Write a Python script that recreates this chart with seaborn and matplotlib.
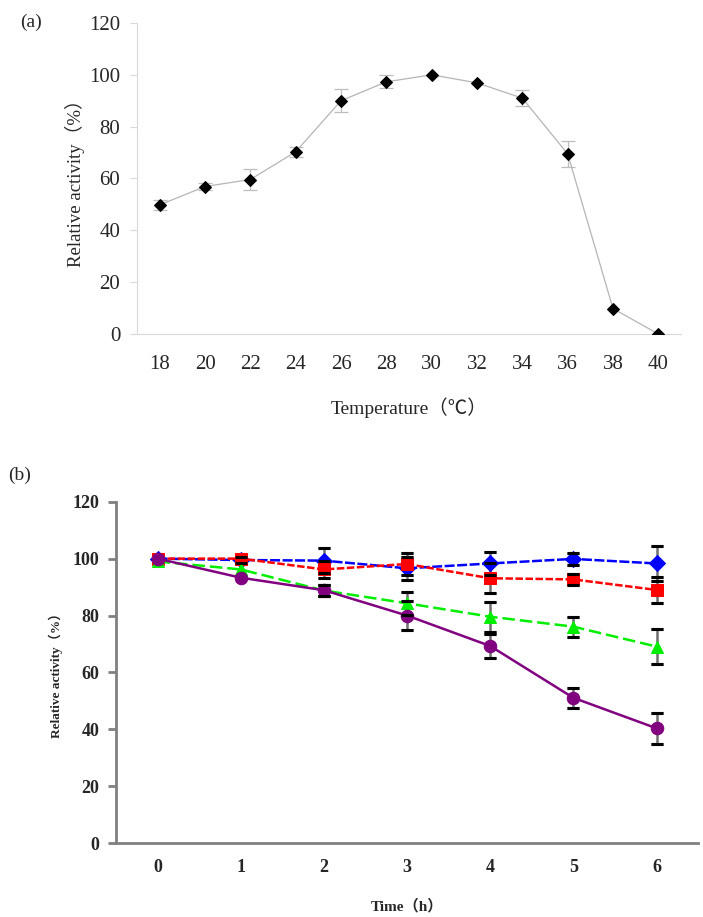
import numpy as np
import pandas as pd
import matplotlib
matplotlib.use('Agg')
import matplotlib.pyplot as plt
import seaborn as sns

# (a) temperature optimum
temps = [18, 20, 22, 24, 26, 28, 30, 32, 34, 36, 38, 40]
act_a = [49.8, 56.9, 59.6, 70.3, 90.0, 97.3, 100.0, 96.9, 91.0, 69.5, 9.8, 0.0]
err_a = [1.8, 1.5, 3.9, 2.0, 4.5, 2.5, 0.0, 0.0, 3.0, 5.0, 0.0, 0.0]

# (b) thermal stability
hours = [0, 1, 2, 3, 4, 5, 6]
blue_v = [100.0, 99.5, 99.3, 96.6, 98.3, 99.9, 98.3]
blue_e = [0.0, 1.0, 4.5, 4.0, 4.0, 2.0, 6.0]
red_v = [100.0, 100.0, 96.2, 98.1, 93.1, 92.7, 89.0]
red_e = [0.0, 0.0, 3.0, 4.0, 5.3, 2.0, 4.5]
green_v = [99.0, 96.2, 88.8, 84.3, 79.6, 76.1, 69.1]
green_e = [0.0, 0.0, 2.0, 4.0, 5.3, 3.5, 6.2]
purple_v = [100.0, 93.3, 88.9, 80.0, 69.3, 51.1, 40.4]
purple_e = [0.0, 0.0, 2.0, 5.0, 4.3, 3.5, 5.5]

serif = ['Liberation Serif', 'Noto Sans CJK SC', 'DejaVu Sans']

sns.set_style('white')
plt.rcParams['font.family'] = serif


def nonzero(x, v, e):
    # only points that actually carry an error bar
    d = pd.DataFrame({'x': x, 'v': v, 'e': e})
    return d[d['e'] > 0]


fig = plt.figure(figsize=(7.03, 9.17), dpi=100)

# ---------- panel (a) ----------
ax1 = fig.add_axes([0.1949, 0.6358, 0.7738, 0.3391])
d = nonzero(temps, act_a, err_a)
ax1.errorbar(d['x'], d['v'], yerr=d['e'], fmt='none', ecolor='#bdbdbd',
             elinewidth=0.9, capsize=5, capthick=0.9, zorder=2)
sns.lineplot(x=temps, y=act_a, ax=ax1, color='#b5b5b5', linewidth=0.9,
             marker='D', markersize=6.5, markerfacecolor='black',
             markeredgecolor='black', zorder=3)
ax1.set_xlim(17, 41)
ax1.set_ylim(0, 120)
ax1.set_yticks(np.arange(0, 121, 20))
ax1.set_xticks(temps)
ax1.set_xticks(np.arange(17, 42, 2), minor=True)
ax1.tick_params(axis='x', which='major', length=0, pad=15, labelsize=15)
ax1.tick_params(axis='x', which='minor', length=6, color='#d9d9d9', width=0.8, direction='out')
ax1.tick_params(axis='y', which='major', length=5, color='#d9d9d9', width=0.8,
                direction='out', left=True, pad=7, labelsize=15)
for s in ['top', 'right']:
    ax1.spines[s].set_visible(False)
for s in ['left', 'bottom']:
    ax1.spines[s].set_color('#d9d9d9')
    ax1.spines[s].set_linewidth(0.8)
ax1.set_xlabel('Temperature（℃）', fontsize=14, labelpad=17)
ax1.set_ylabel('Relative activity（%）', fontsize=13.5, labelpad=3)
fig.text(0.028, 0.985, '(a)', fontsize=14, va='top', ha='left')

# ---------- panel (b) ----------
ax2 = fig.add_axes([0.165, 0.0804, 0.828, 0.3725])
series = [
    (blue_v, blue_e, '#0000ff', 'D', 8, (0, (4, 1))),
    (red_v, red_e, '#ff0000', 's', 8, (0, (3, 1))),
    (green_v, green_e, '#00ee00', '^', 9, (0, (5, 2))),
    (purple_v, purple_e, '#800080', 'o', 9, '-'),
]
for vals, errs, col, mk, ms, ls in series:
    d = nonzero(hours, vals, errs)
    ax2.errorbar(d['x'], d['v'], yerr=d['e'], fmt='none', ecolor='#6e6e6e',
                 elinewidth=1.8, capsize=4, capthick=2.2, zorder=2)
    sns.lineplot(x=hours, y=vals, ax=ax2, color=col, linewidth=1.8,
                 linestyle=ls, marker=mk, markersize=ms,
                 markerfacecolor=col, markeredgecolor=col, zorder=3)
    ax2.errorbar(d['x'], d['v'], yerr=d['e'], fmt='none', ecolor='black',
                 elinewidth=0, capsize=4, capthick=2.2, zorder=4)
ax2.set_xlim(-0.5, 6.5)
ax2.set_ylim(0, 120)
ax2.set_yticks(np.arange(0, 121, 20))
ax2.set_xticks(hours)
ax2.set_xticks(np.arange(-0.5, 6.6, 1), minor=True)
ax2.tick_params(axis='x', which='major', length=0, pad=11, labelsize=13)
ax2.tick_params(axis='x', which='minor', length=6, color='#808080', width=2, direction='out')
ax2.tick_params(axis='y', which='major', length=6, color='#808080', width=2,
                direction='out', pad=6, labelsize=13, left=True)
for lab in ax2.get_xticklabels() + ax2.get_yticklabels():
    lab.set_fontweight('bold')
for s in ['top', 'right']:
    ax2.spines[s].set_visible(False)
for s in ['left', 'bottom']:
    ax2.spines[s].set_color('#808080')
    ax2.spines[s].set_linewidth(2)
ax2.set_xlabel('Time（h）', fontsize=11, fontweight='bold', labelpad=17)
ax2.set_ylabel('Relative activity（%）', fontsize=9.5, fontweight='bold', labelpad=7)
fig.text(0.012, 0.482, '(b)', fontsize=14, va='center', ha='left')

fig.savefig('out.png', dpi=100)
